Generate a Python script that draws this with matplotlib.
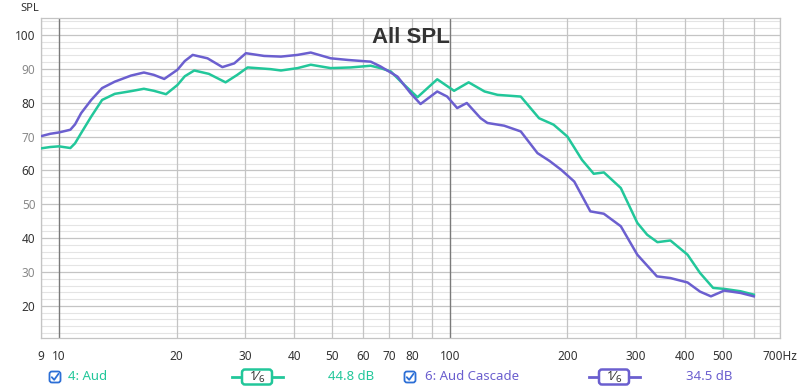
import matplotlib.pyplot as plt
from matplotlib.patches import FancyBboxPatch

plt.rcParams['font.family'] = ['Noto Sans', 'DejaVu Sans']

# values (Hz, dB)
aud_freq = [9.0, 9.5, 10.0, 10.7, 11.0, 11.4, 12.1, 12.9, 13.9, 15.3, 16.5, 17.5, 18.8,
            20.1, 21.0, 22.2, 24.2, 26.7, 28.6, 30.4, 34.8, 37.0, 40.8, 44.1, 49.6, 55.8,
            62.8, 66.5, 70.7, 75, 82.7, 92.9, 102.6, 111.8, 122.8, 132.6, 152, 169.3,
            184.4, 200, 218, 233.6, 248, 274, 302, 320, 340, 367, 406, 437, 472, 504,
            555, 600]
aud_spl = [66.5, 66.9, 67.1, 66.6, 68.0, 71.0, 75.9, 80.8, 82.6, 83.4, 84.1, 83.5, 82.5,
           85.2, 87.8, 89.5, 88.5, 86.0, 88.2, 90.4, 89.9, 89.5, 90.2, 91.2, 90.2, 90.4,
           90.9, 90.2, 89.2, 86.2, 81.6, 86.9, 83.5, 86.0, 83.3, 82.3, 81.8, 75.4,
           73.5, 70.0, 63.1, 59.0, 59.4, 54.8, 44.5, 41.0, 38.8, 39.3, 35.1, 29.7, 25.3, 25.0,
           24.3, 23.3]

cascade_freq = [9.0, 9.5, 10.0, 10.7, 11.0, 11.4, 12.1, 12.9, 13.9, 15.3, 16.5, 17.5, 18.6,
                20.1, 21.0, 22.0, 24.0, 26.2, 28.1, 30.1, 33.5, 37.0, 40.8, 44.1, 49.6, 55.0,
                62.8, 66.5, 73.5, 79.4, 84.2, 92.9, 98.5, 104.5, 110.6, 120, 124.9, 137.8,
                152, 167.7, 180, 192.7, 208.3, 229, 247.9, 274, 302, 339, 367, 406, 437,
                466, 504, 555, 600]
cascade_spl = [70.1, 70.8, 71.2, 72.0, 73.6, 76.9, 80.8, 84.3, 86.2, 88.0, 88.9, 88.2, 87.0,
               89.7, 92.3, 94.1, 93.1, 90.5, 91.6, 94.6, 93.8, 93.6, 94.1, 94.8, 93.1, 92.6,
               92.1, 90.7, 87.7, 82.8, 79.6, 83.3, 81.8, 78.4, 79.9, 75.4, 74.0, 73.2,
               71.5, 65.1, 62.8, 60.2, 56.7, 47.9, 47.2, 43.5, 35.1, 28.7, 28.2, 26.9, 24.2,
               22.8, 24.5, 23.8, 22.8]

grid_freqs = [9, 10, 20, 30, 40, 50, 60, 70, 80, 90, 100, 200, 300, 400, 500, 600, 700]
x_ticks = [9, 10, 20, 30, 40, 50, 60, 70, 80, 100, 200, 300, 400, 500, 700]
x_labels = ['9', '10', '20', '30', '40', '50', '60', '70', '80', '100',
            '200', '300', '400', '500', '700Hz']
y_ticks = [20, 30, 40, 50, 60, 70, 80, 90, 100]

green = '#22c79a'
purple = '#6b5fcf'

fig = plt.figure(figsize=(8, 3.89), dpi=100)
ax = fig.add_axes([41 / 800, 1 - 338 / 389, 739 / 800, 320 / 389])

ax.set_xscale('log')
ax.set_xlim(9, 700)
ax.set_ylim(10.5, 105)

# grid
for v in range(12, 105, 2):
    if v % 10 == 0:
        ax.axhline(v, color='#c4c4c4', lw=0.9, zorder=0)
    else:
        ax.axhline(v, color='#e4e4e4', lw=0.8, zorder=0)
for f in grid_freqs:
    if f in (10, 100):
        ax.axvline(f, color='#7a7a7a', lw=1.0, zorder=0)
    else:
        ax.axvline(f, color='#c4c4c4', lw=0.9, zorder=0)

ax.plot(aud_freq, aud_spl, color=green, lw=1.8, zorder=3, solid_joinstyle='round')
ax.plot(cascade_freq, cascade_spl, color=purple, lw=1.8, zorder=3, solid_joinstyle='round')

ax.set_xticks(x_ticks)
ax.set_xticklabels(x_labels)
ax.xaxis.set_minor_locator(plt.NullLocator())
ax.set_yticks(y_ticks)
ax.set_yticklabels([str(v) for v in y_ticks])
ax.tick_params(length=0, labelsize=8.5, colors='#333333')
ax.tick_params(axis='x', pad=9)
ax.tick_params(axis='y', pad=4)
for lab, v in zip(ax.get_yticklabels(), y_ticks):
    if v % 20 != 0:
        lab.set_color('#8a8a8a')
for s in ax.spines.values():
    s.set_color('#c4c4c4')
    s.set_linewidth(0.9)

ax.text(0.5, 0.94, 'All SPL', transform=ax.transAxes, ha='center', va='center',
        fontsize=16, fontweight='bold', color='#333333', zorder=5,
        family=['Liberation Sans', 'DejaVu Sans'])

# overlay in pixel coordinates for the header and legend row
ov = fig.add_axes([0, 0, 1, 1], zorder=10)
ov.set_xlim(0, 800)
ov.set_ylim(389, 0)
ov.axis('off')
ov.patch.set_alpha(0)

ov.text(20, 8, 'SPL', fontsize=8, color='#333333', va='center', ha='left')


def checkbox(x, y):
    ov.add_patch(FancyBboxPatch((x - 5.5, y - 5.5), 11, 11,
                                boxstyle='round,pad=0,rounding_size=2.5',
                                fc='white', ec='#2c6fd6', lw=1.3))
    ov.plot([x - 3.2, x - 0.8, x + 3.5], [y + 0.2, y + 2.8, y - 3.2],
            color='#2c6fd6', lw=1.3, solid_capstyle='round')


def smoothing(x0, x1, bx0, bx1, y, col):
    ov.plot([x0, x1], [y, y], color=col, lw=2)
    ov.add_patch(FancyBboxPatch((bx0, y - 7.5), bx1 - bx0, 15,
                                boxstyle='round,pad=0,rounding_size=3',
                                fc='white', ec=col, lw=1.8, zorder=3))
    cx = (bx0 + bx1) / 2
    ov.text(cx - 4, y - 0.5, '1', fontsize=9, color='#333333',
            ha='center', va='center', zorder=4)
    ov.text(cx, y, '⁄', fontsize=9.5, color='#333333',
            ha='center', va='center', zorder=4, family=['DejaVu Sans'])
    ov.text(cx + 4.5, y + 2, '6', fontsize=7, color='#333333',
            ha='center', va='center', zorder=4)


ly = 377
checkbox(55, ly)
ov.text(68, ly, '4: Aud', fontsize=9.5, color=green, va='center', ha='left')
smoothing(232, 283, 242, 272, ly, green)
ov.text(328, ly, '44.8 dB', fontsize=9.5, color=green, va='center', ha='left')

checkbox(410, ly)
ov.text(425, ly, '6: Aud Cascade', fontsize=9.5, color=purple, va='center', ha='left')
smoothing(589, 640, 599, 629, ly, purple)
ov.text(686, ly, '34.5 dB', fontsize=9.5, color=purple, va='center', ha='left')

fig.savefig('out.png', dpi=100)
